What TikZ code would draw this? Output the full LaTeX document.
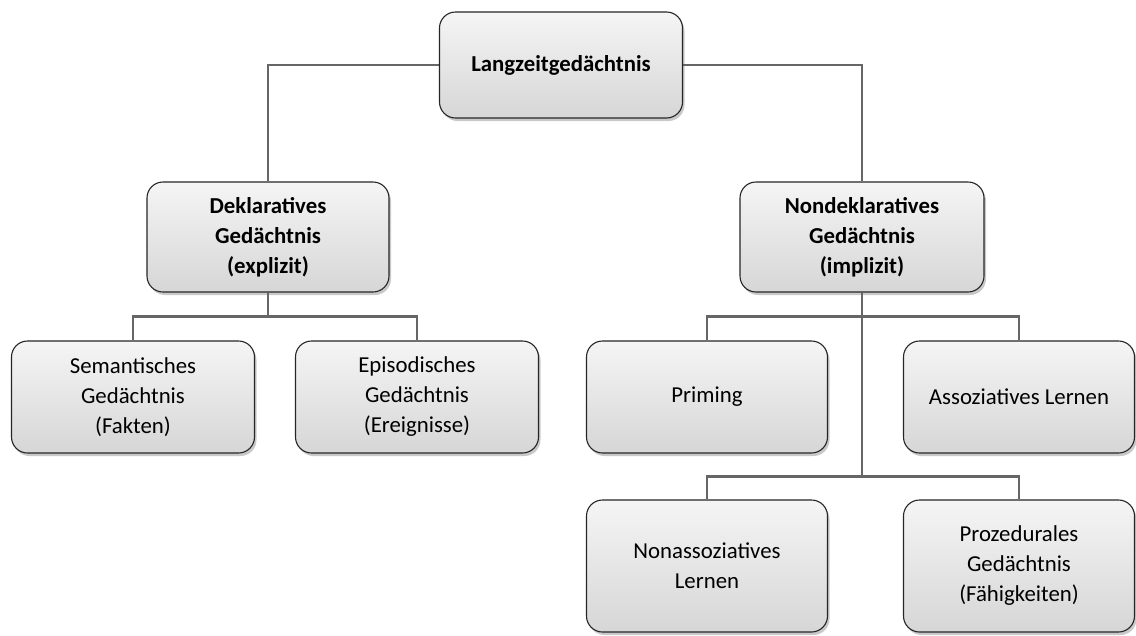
\documentclass[tikz,border=0pt]{standalone}
\usepackage{fontspec}
\setmainfont{Carlito}
\usetikzlibrary{shadows,backgrounds}
\begin{document}
\begin{tikzpicture}[x=1pt,y=-1pt,
  box/.style={draw=black!85, line width=1.1pt, rounded corners=16pt,
    top color=gray!8, bottom color=gray!32,
    drop shadow={shadow xshift=2pt, shadow yshift=-3pt, opacity=0.35, fill=black!60},
    align=center, font=\fontsize{22.8}{30}\selectfont, inner sep=2pt},
  bbox/.style={box, font=\fontsize{22.8}{30}\selectfont\bfseries},
  conn/.style={draw=gray!80!black, line width=2.6pt}]
\useasboundingbox (0,0) rectangle (1136,635);
\node[bbox, minimum width=243pt, minimum height=106pt] (lzg) at (561,65) {Langzeitged\"achtnis};
\node[bbox, minimum width=242pt, minimum height=110pt] (dek) at (268,237) {Deklaratives\\Ged\"achtnis\\(explizit)};
\node[bbox, minimum width=244pt, minimum height=110pt] (ndek) at (862,237) {Nondeklaratives\\Ged\"achtnis\\(implizit)};
\node[box, minimum width=243pt, minimum height=112pt] (sem) at (133,397) {Semantisches\\Ged\"achtnis\\(Fakten)};
\node[box, minimum width=243pt, minimum height=112pt] (epi) at (417,397) {Episodisches\\Ged\"achtnis\\(Ereignisse)};
\node[box, minimum width=241pt, minimum height=112pt] (pri) at (707,397) {Priming};
\node[box, minimum width=231pt, minimum height=112pt] (ass) at (1019,397) {Assoziatives Lernen};
\node[box, minimum width=241pt, minimum height=132pt] (nas) at (707,566) {Nonassoziatives\\Lernen};
\node[box, minimum width=231pt, minimum height=132pt] (pro) at (1019,566) {Prozedurales\\Ged\"achtnis\\(F\"ahigkeiten)};
\begin{scope}[on background layer]
\path[fill=white] (0,0) rectangle (1136,635);
\draw[conn] (lzg.west) -| (dek.north);
\draw[conn] (lzg.east) -| (ndek.north);
\draw[conn] (dek.south) -- ++(0,24) coordinate (dj) -| (sem.north);
\draw[conn] (dj) -| (epi.north);
\draw[conn] (ndek.south) -- ++(0,24) coordinate (nj) -| (pri.north);
\draw[conn] (nj) -| (ass.north);
\draw[conn] (nj) -- ++(0,160) coordinate (nj2) -| (nas.north);
\draw[conn] (nj2) -| (pro.north);
\end{scope}
\end{tikzpicture}
\end{document}
